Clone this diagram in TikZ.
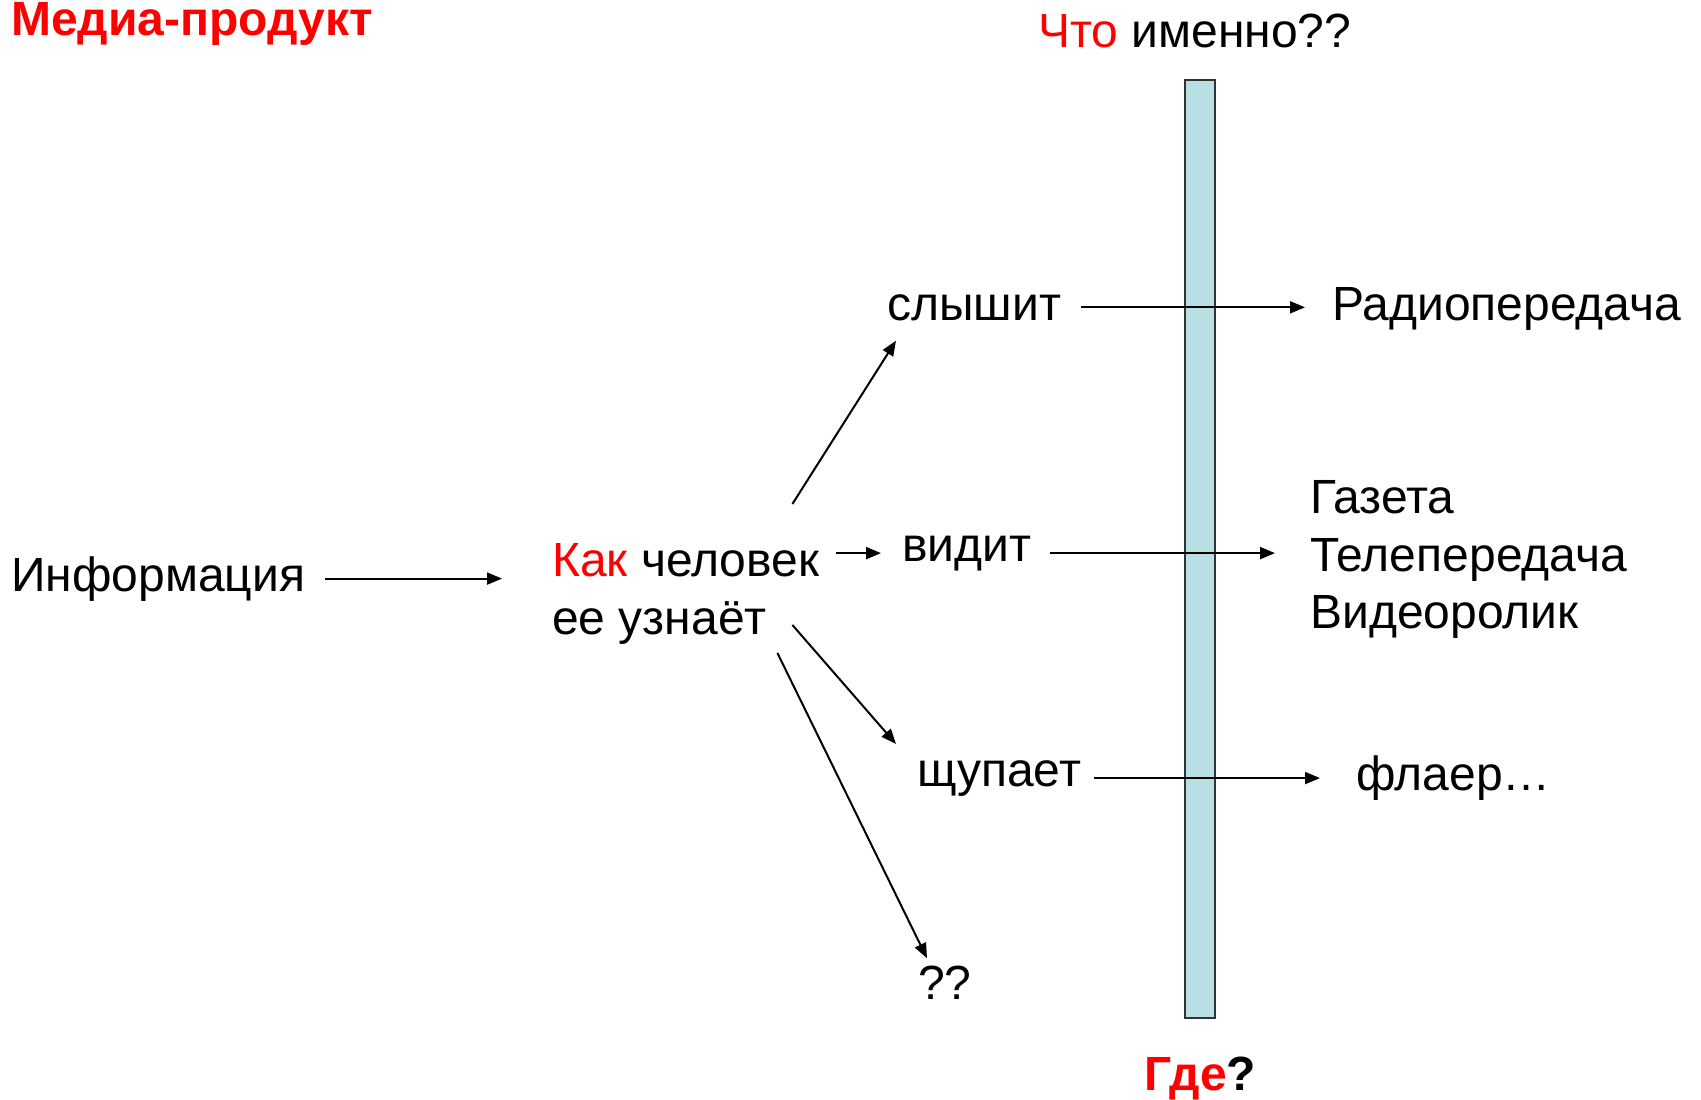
\documentclass[tikz,border=0pt]{standalone}
\usepackage{fontspec}
\setmainfont{Liberation Sans}
\usetikzlibrary{calc, arrows.meta}
\definecolor{barblue}{RGB}{184,223,227}
\definecolor{bardraw}{RGB}{50,50,50}

\begin{document}
\begin{tikzpicture}[x=1pt,y=-1pt,
        lbl/.style={inner sep=0pt,font=\fontsize{48}{57.5}\selectfont},
        arr/.style={-{Triangle[length=15pt,width=12pt]},line width=2pt}]
            \useasboundingbox (0,0) rectangle (1701,1100);
            % the bar in the middle
            \node[draw=bardraw,line width=2.5pt,fill=barblue,minimum width=30pt,minimum height=938pt,inner sep=0pt] (bar) at (1200,549) {};
            \node[lbl,anchor=base west,font=\fontsize{48}{57.5}\selectfont\bfseries,text=red] (title) at (11,35.5) {Медиа-продукт};
            \node[lbl,anchor=base west] (what) at (1038,47) {\textcolor{red}{Что} именно??};
            \node[lbl,anchor=base west,font=\fontsize{48}{57.5}\selectfont\bfseries] (where) at (1144,1090) {\textcolor{red}{Где}?};
            \node[lbl,anchor=base west] (info) at (11,591) {Информация};
            \node[lbl,anchor=north west,align=left] (kak) at (552,543.6) {\textcolor{red}{Как} человек\\ее узнаёт};
            \node[lbl,anchor=base west] (hear) at (887,320) {слышит};
            \node[lbl,anchor=base west] (see) at (902,561) {видит};
            \node[lbl,anchor=base west] (touch) at (917,786) {щупает};
            \node[lbl,anchor=base west] (qq) at (918,999) {??};
            \node[lbl,anchor=base west] (radio) at (1332,320) {Радиопередача};
            \node[lbl,anchor=north west,align=left] (media) at (1310,480.6) {Газета\\Телепередача\\Видеоролик};
            \node[lbl,anchor=base west] (flyer) at (1356,790) {флаер\ldots};
            % arrows
            \draw[arr,shorten <=20pt,shorten >=50pt] (info.east) -- (info.east -| kak.west);
            \draw[arr] ($(kak.north east)+(-27,-39.6)$) -- ($(hear.south west)+(9,20)$);
            \draw[arr,shorten <=17pt,shorten >=21pt] (see.west -| kak.east) -- (see.west);
            \draw[arr] ($(kak.south east)+(-27,-19.5)$) -- ($(touch.north west)+(-21,-16)$);
            \draw[arr] ($(kak.south east)+(-42,8.5)$) -- ($(qq.north west)+(9,-7)$);
            \draw[arr,shorten <=20pt,shorten >=27pt] (hear.east) -- (hear.east -| radio.west);
            \draw[arr,shorten <=18pt,shorten >=35pt] (see.east) -- (see.east -| media.west);
            \draw[arr,shorten <=13pt,shorten >=36pt] (touch.east) -- (touch.east -| flyer.west);
        \end{tikzpicture}
\end{document}
